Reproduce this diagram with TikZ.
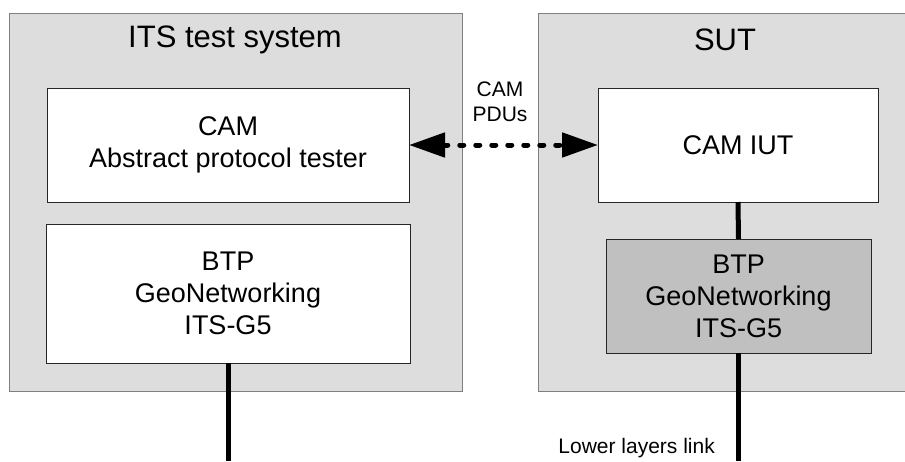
\documentclass[tikz,border=0pt]{standalone}
\usepackage{fontspec}
\setmainfont{Liberation Sans}
\usetikzlibrary{arrows.meta}
\definecolor{panelgray}{HTML}{DDDDDD}
\definecolor{layergray}{HTML}{C0C0C0}
\definecolor{panelborder}{HTML}{7F7F7F}
\definecolor{boxborder}{HTML}{262626}
\begin{document}
\begin{tikzpicture}[x=1pt,y=-1pt,
  panel/.style={draw=panelborder, fill=panelgray, line width=1pt, inner sep=0pt, outer sep=0pt},
  paneltitle/.style={inner sep=0pt, font=\fontsize{31}{35}\selectfont},
  layer/.style={draw=boxborder, fill=white, line width=1pt, inner sep=0pt, outer sep=0pt,
    align=center, font=\fontsize{27}{32}\selectfont},
  link/.style={line width=5pt, black},
  pdu/.style={line width=5pt, black, line cap=round, dash pattern=on 4pt off 12pt,
    {Triangle[length=36pt,width=24pt]}-{Triangle[length=36pt,width=24pt]}},
  smalllabel/.style={inner sep=0pt, align=center, font=\fontsize{21}{25}\selectfont},
  linklabel/.style={inner sep=0pt, font=\fontsize{21}{25}\selectfont}]
\useasboundingbox (0,0) rectangle (905,461);
% panels
\node[panel, minimum width=453pt, minimum height=378pt] (its) at (235.5,202) {};
\node[panel, minimum width=369pt, minimum height=378pt] (sut) at (722.5,202) {};
\node[paneltitle] (itsT) at (235,40) {ITS test system};
\node[paneltitle] (sutT) at (725,40) {SUT};
% layers
\node[layer, minimum width=362pt, minimum height=114pt] (cam) at (228,145) {CAM\\Abstract protocol tester};
\node[layer, minimum width=364pt, minimum height=139pt] (btpL) at (228,293.5) {BTP\\GeoNetworking\\ITS-G5};
\node[layer, minimum width=280pt, minimum height=114pt] (iut) at (738,145) {CAM IUT};
\node[layer, fill=layergray, minimum width=265pt, minimum height=114pt] (btpR) at (738.5,296) {BTP\\GeoNetworking\\ITS-G5};
% connectors
\coordinate (endL) at (228,461);
\coordinate (endR) at (738.5,461);
\draw[link] (iut.south) -- (btpR.north);
\draw[link] (btpL.south) -- (endL);
\draw[link] (btpR.south) -- (endR);
\draw[pdu] (cam.east) -- (iut.west);
% labels
\node[smalllabel] (pdus) at (500,102) {CAM\\PDUs};
\node[linklabel, anchor=base east] (lll) at (715,453) {Lower layers link};
\end{tikzpicture}
\end{document}
